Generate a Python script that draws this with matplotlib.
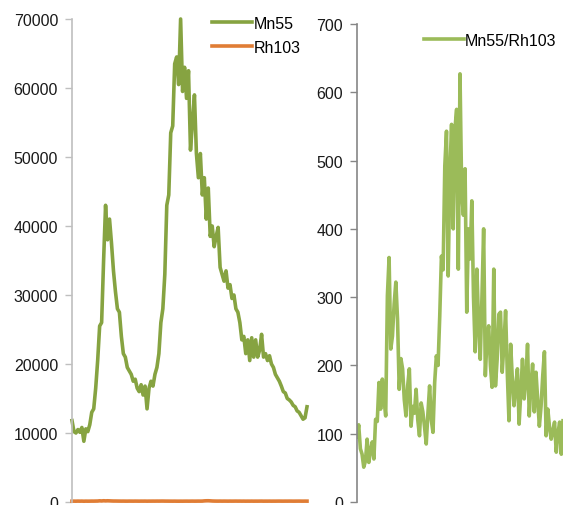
import matplotlib
matplotlib.use("Agg")
import matplotlib.pyplot as plt
import numpy as np

plt.rcParams['font.family'] = ['Liberation Sans', 'DejaVu Sans']

# Mn55 signal intensity (counts) along the scan
mn55 = [11800, 10200, 10000, 10500, 10100, 10800, 8800, 10600, 10200, 11200,
        13000, 13500, 16500, 20500, 25500, 26000, 35000, 43000, 38000, 41000,
        37500, 33500, 30500, 28000, 27500, 24000, 21500, 21000, 19500, 19000,
        18500, 17500, 17800, 16500, 16000, 17000, 15500, 16800, 13500, 16500,
        17500, 16800, 18500, 19500, 21500, 26000, 28000, 33000, 43000, 44500,
        53500, 54500, 63500, 64500, 60500, 70000, 59500, 63000, 58500, 62500,
        51000, 55000, 59000, 50500, 47000, 50500, 44500, 47000, 41000, 45500,
        38500, 40000, 37000, 38500, 39800, 34000, 33000, 32000, 33500, 31000,
        31500, 29500, 30000, 28000, 27500, 26000, 23500, 24000, 21500, 23500,
        20500, 23800, 21000, 23500, 21000, 22000, 24300, 21000, 21500, 20500,
        21200, 20000, 19500, 18500, 18000, 17500, 16800, 16000, 15800, 15000,
        14800, 14500, 14000, 13800, 13200, 13000, 12500, 12000, 12200, 13800]

# Rh103 internal standard intensity (counts)
rh103 = [120, 125, 118, 130, 122, 128, 115, 126, 120, 124,
         130, 128, 135, 140, 170, 150, 180, 160, 175, 165,
         150, 140, 140, 135, 132, 128, 130, 126, 124, 130,
         128, 125, 130, 127, 124, 128, 126, 130, 122, 128,
         126, 130, 128, 132, 130, 134, 136, 130, 128, 126,
         124, 122, 125, 120, 118, 122, 120, 124, 126, 122,
         125, 128, 124, 126, 130, 128, 132, 160, 175, 180,
         165, 145, 135, 130, 128, 132, 126, 130, 128, 124,
         130, 126, 128, 132, 126, 130, 124, 128, 122, 126,
         124, 128, 122, 126, 124, 128, 130, 122, 126, 124,
         128, 122, 126, 124, 128, 130, 126, 124, 128, 126,
         130, 128, 124, 126, 128, 130, 126, 124, 128, 125]

# Mn55/Rh103 intensity ratio
ratio = [95, 113, 78, 70, 51, 60, 92, 58, 75, 88,
         63, 121, 118, 175, 136, 180, 150, 126, 302, 358,
         224, 243, 290, 322, 268, 165, 210, 195, 150, 126,
         170, 195, 111, 140, 130, 165, 120, 97, 145, 132,
         110, 85, 130, 170, 120, 102, 175, 214, 200, 272,
         360, 340, 492, 543, 331, 480, 553, 400, 546, 575,
         341, 627, 454, 420, 488, 278, 400, 356, 441, 300,
         220, 341, 260, 209, 300, 400, 185, 240, 258, 200,
         168, 341, 170, 209, 275, 278, 190, 230, 280, 190,
         119, 231, 180, 141, 170, 195, 114, 160, 209, 151,
         180, 231, 126, 170, 202, 132, 190, 150, 111, 140,
         185, 220, 97, 136, 110, 92, 105, 117, 73, 100,
         117, 70, 119]

W, H = 563, 506
fig = plt.figure(figsize=(W / 100, H / 100), dpi=100)

def style_axis(ax, spine_color):
    for side in ("top", "right", "bottom"):
        ax.spines[side].set_visible(False)
    ax.spines["left"].set_color(spine_color)
    ax.spines["left"].set_linewidth(1.2)
    ax.set_xticks([])
    ax.tick_params(axis="y", direction="out", length=5, width=1,
                   color=spine_color, labelsize=11.5, pad=5,
                   labelcolor="#1a1a1a")

# Left panel: raw intensities
ax1 = fig.add_axes([72 / W, 3 / H, (307 - 72) / W, (503 - 20) / H])
x1 = np.arange(len(mn55))
ax1.plot(x1, mn55, color="#86a341", lw=2.6, label="Mn55")
ax1.plot(x1, rh103, color="#e07d35", lw=2.6, label="Rh103")
ax1.set_xlim(0, len(mn55) - 1)
ax1.set_ylim(0, 70000)
ax1.set_yticks(np.arange(0, 70001, 10000))
style_axis(ax1, "#bfbfbf")
for s in ax1.lines:
    s.set_clip_on(False)
ax1.legend(loc="upper right", bbox_to_anchor=(1.0, 1.02), frameon=False,
           fontsize=11.5, handlelength=2.5, handletextpad=0.1,
           labelspacing=0.55, borderaxespad=0)

# Right panel: ratio
ax2 = fig.add_axes([357 / W, 3 / H, (563 - 357) / W, (503 - 25) / H])
x2 = np.arange(len(ratio))
ax2.plot(x2, ratio, color="#9bbb59", lw=2.6, label="Mn55/Rh103")
ax2.set_xlim(0, len(ratio) - 1)
ax2.set_ylim(0, 700)
ax2.set_yticks(np.arange(0, 701, 100))
style_axis(ax2, "#868686")
ax2.legend(loc="upper right", bbox_to_anchor=(1.0, 0.995), frameon=False,
           fontsize=11.5, handlelength=2.5, handletextpad=0.1,
           borderaxespad=0)

fig.savefig("out.png", dpi=100)
